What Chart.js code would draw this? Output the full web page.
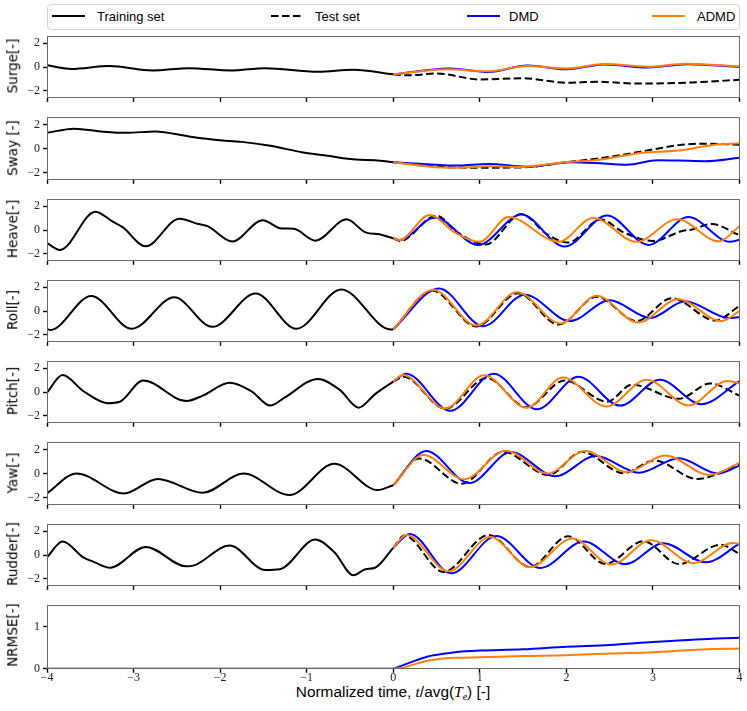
<!DOCTYPE html>
<html><head><meta charset="utf-8">
<script src="https://cdn.jsdelivr.net/npm/chart.js@4.4.1/dist/chart.umd.min.js"></script>
<style>
html,body{margin:0;padding:0;background:#fff;}
#wrap{position:relative;width:747px;height:711px;overflow:hidden;background:#fff;}
#wrap canvas{position:absolute;left:0;}
.ylab{position:absolute;font-family:"DejaVu Sans",sans-serif;font-size:13.5px;white-space:nowrap;transform:translate(-50%,-50%) rotate(-90deg);left:13px;color:#000;line-height:1;}
.leg{position:absolute;font-family:"Liberation Sans",sans-serif;font-size:13px;top:16px;transform:translateY(-50%);white-space:nowrap;color:#000;line-height:1;}
#legbox{position:absolute;left:47px;top:4px;width:691px;height:24px;border:1px solid #d4d4d4;border-radius:4px;background:#fff;}
#xlab{position:absolute;left:393px;top:692px;transform:translate(-50%,-50%);font-family:"Liberation Sans",sans-serif;font-size:15.4px;white-space:nowrap;color:#000;line-height:1;}
#xlab i{font-family:"Liberation Serif",serif;font-style:italic;}
#xlab sub{font-size:10px;vertical-align:-3px;line-height:0;}
</style></head><body>
<div id="wrap">
  <div id="legbox"></div>
  <svg style="position:absolute;left:0;top:0" width="747" height="32">
    <line x1="52" y1="16" x2="85" y2="16" stroke="#000" stroke-width="2"/>
    <line x1="271" y1="16" x2="304" y2="16" stroke="#000" stroke-width="2" stroke-dasharray="7.5,3.5"/>
    <line x1="467" y1="16" x2="500" y2="16" stroke="#0000ff" stroke-width="2"/>
    <line x1="652" y1="16" x2="685" y2="16" stroke="#ff7f0e" stroke-width="2"/>
  </svg>
  <div class="leg" style="left:97px">Training set</div>
  <div class="leg" style="left:315px">Test set</div>
  <div class="leg" style="left:509px">DMD</div>
  <div class="leg" style="left:697px">ADMD</div>
  <div id="xlab">Normalized time, <i>t</i>/avg(<i>T</i><sub><i>e</i></sub>) [-]</div>
</div>
<script>
// ---------- DATA ----------
const xTicks = [-4,-3,-2,-1,0,1,2,3,4];
const yTicks = [-2,0,2];
const nrmseTicks = [0,1];

// Surge
const surgeTrainT = [-4,-3.72,-3.28,-2.78,-2.36,-1.87,-1.48,-0.87,-0.46,0];
const surgeTrainY = [0.14,-0.17,0.08,-0.3,-0.1,-0.3,-0.1,-0.4,-0.23,-0.62];
const surgeTestT = [0,0.18,0.5,1.0,1.5,2.0,2.35,2.85,3.45,4];
const surgeTestY = [-0.62,-0.7,-0.55,-1.05,-0.95,-1.33,-1.25,-1.4,-1.3,-1.08];
const surgeDmdT = [0,0.65,1.1,1.55,2.0,2.44,2.94,3.4,4];
const surgeDmdY = [-0.62,-0.12,-0.42,0.12,-0.2,0.22,-0.04,0.24,0.0];
const surgeAdmdT = [0,0.63,1.08,1.55,2.0,2.44,2.94,3.38,4];
const surgeAdmdY = [-0.62,-0.18,-0.36,0.08,-0.12,0.26,0.02,0.28,0.04];

// Sway
const swayTrainT = [-4,-3.69,-3.35,-3.08,-2.75,-2.36,-2.03,-1.75,-1.42,-1.04,-0.76,-0.43,-0.21,0];
const swayTrainY = [1.3,1.65,1.4,1.3,1.42,1.0,0.7,0.55,0.22,-0.33,-0.6,-0.92,-0.97,-1.14];
const swayTestT = [0,0.4,0.95,1.5,2.0,2.5,3.0,3.3,3.6,4];
const swayTestY = [-1.14,-1.45,-1.6,-1.57,-1.14,-0.7,-0.08,0.28,0.4,0.32];
const swayDmdT = [0,0.4,0.73,1.1,1.55,2.05,2.33,2.7,3.05,3.3,3.6,4];
const swayDmdY = [-1.14,-1.3,-1.42,-1.28,-1.52,-1.14,-1.2,-1.35,-0.98,-1.0,-1.05,-0.77];
const swayAdmdT = [0,0.5,0.75,1.1,1.45,2.05,2.33,2.88,3.3,3.7,4];
const swayAdmdY = [-1.14,-1.55,-1.6,-1.47,-1.53,-1.1,-0.98,-0.35,-0.17,0.3,0.43];

// Heave
const heaveTrainT = [-4,-3.85,-3.44,-3.24,-3.13,-2.86,-2.47,-2.25,-2.14,-1.86,-1.51,-1.29,-1.15,-0.9,-0.54,-0.32,-0.15,0];
const heaveTrainY = [-1.1,-1.68,1.55,0.7,0.26,-1.37,0.95,0.5,0.3,-0.98,0.83,0.13,0.1,-0.9,0.9,-0.2,-0.38,-0.7];
const heaveTestT = [0,0.08,0.5,0.73,1.07,1.48,1.77,2.02,2.4,2.66,3.0,3.35,3.43,3.68,4];
const heaveTestY = [-0.7,-0.92,1.22,-0.15,-1.22,1.35,-0.32,-1.06,0.89,-0.2,-0.92,-0.06,0.0,0.5,-0.44];
const heaveDmdT = [0,0.07,0.48,0.98,1.48,1.98,2.47,2.95,3.41,3.89,4];
const heaveDmdY = [-0.7,-0.85,1.04,-1.26,1.3,-1.4,1.22,-1.26,1.09,-1.0,-0.83];
const heaveAdmdT = [0,0.07,0.42,0.72,1.0,1.33,1.91,2.31,2.81,3.28,3.76,4];
const heaveAdmdY = [-0.7,-0.85,1.27,-0.25,-1.0,1.09,-1.0,1.02,-1.0,0.91,-0.96,0.32];

// Roll
const rollTrainT = [-4,-3.96,-3.49,-3.02,-2.53,-2.09,-1.59,-1.12,-0.6,-0.03,0];
const rollTrainY = [-1.52,-1.6,1.27,-1.5,1.16,-1.34,1.47,-1.5,1.82,-1.56,-1.55];
const rollTestT = [0,0.45,0.96,1.44,1.91,2.35,2.81,3.22,3.72,4];
const rollTestY = [-1.55,1.72,-1.3,1.5,-1.15,1.2,-0.85,1.08,-0.8,0.44];
const rollDmdT = [0,0.53,1.04,1.52,2.04,2.5,2.97,3.37,3.88,4];
const rollDmdY = [-1.55,1.9,-1.28,1.38,-0.85,0.9,-0.59,0.82,-0.6,-0.5];
const rollAdmdT = [0,0.46,0.96,1.43,1.93,2.35,2.83,3.29,3.79,4];
const rollAdmdY = [-1.55,1.8,-1.23,1.59,-1.05,1.28,-0.97,1.0,-0.85,-0.02];

// Pitch
const pitchTrainT = [-4,-3.82,-3.58,-3.3,-3.16,-2.89,-2.39,-2.2,-1.89,-1.64,-1.42,-1.26,-0.87,-0.62,-0.4,-0.21,0];
const pitchTrainY = [-0.05,1.43,0.08,-0.94,-0.82,0.97,-0.76,-0.3,0.79,0.08,-1.15,-0.5,1.1,0.2,-1.32,-0.18,0.88];
const pitchTestT = [0,0.12,0.6,1.08,1.54,1.98,2.47,2.76,3.3,3.66,4];
const pitchTestY = [0.88,1.28,-1.41,1.18,-1.28,0.97,-0.82,0.62,-0.58,0.72,-0.31];
const pitchDmdT = [0,0.15,0.66,1.16,1.66,2.14,2.62,3.08,3.56,4];
const pitchDmdY = [0.88,1.54,-1.59,1.54,-1.46,1.28,-1.15,1.03,-1.03,0.92];
const pitchAdmdT = [0,0.11,0.6,1.05,1.54,1.96,2.46,2.93,3.41,3.86,4];
const pitchAdmdY = [0.88,1.44,-1.38,1.41,-1.33,1.23,-1.23,1.03,-1.13,0.92,0.72];

// Yaw
const yawTrainT = [-4,-3.66,-3.11,-2.72,-2.2,-1.73,-1.2,-0.68,-0.18,0];
const yawTrainY = [-1.66,0,-1.66,-0.45,-1.6,0,-1.79,0.8,-1.38,-0.97];
const yawTestT = [0,0.3,0.79,1.27,1.79,2.18,2.66,3.02,3.51,4];
const yawTestY = [-0.97,1.25,-0.85,1.8,-0.13,1.8,0.03,1.08,-0.46,0.75];
const yawDmdT = [0,0.38,0.88,1.36,1.87,2.34,2.84,3.3,3.75,4];
const yawDmdY = [-0.97,1.86,-0.79,1.78,-0.22,1.45,0.07,1.27,0.0,0.65];
const yawAdmdT = [0,0.35,0.82,1.3,1.78,2.22,2.7,3.14,3.65,4];
const yawAdmdY = [-0.97,1.53,-0.48,1.9,0.0,1.87,0.12,1.5,-0.12,0.88];

// Rudder
const rudderTrainT = [-4,-3.82,-3.58,-3.46,-3.27,-2.86,-2.39,-2.3,-1.89,-1.48,-1.31,-0.9,-0.68,-0.46,-0.32,-0.21,0];
const rudderTrainY = [-0.2,1.13,-0.2,-0.58,-1.08,0.68,-0.96,-0.88,0.8,-1.26,-1.2,1.31,0.23,-1.71,-1.2,-1.08,0.6];
const rudderTestT = [0,0.13,0.58,1.1,1.58,2.02,2.45,2.89,3.3,3.78,4];
const rudderTestY = [0.6,1.64,-1.43,1.68,-1.0,1.58,-0.75,1.16,-0.77,0.87,0.1];
const rudderDmdT = [0,0.19,0.67,1.19,1.7,2.2,2.68,3.12,3.61,4];
const rudderDmdY = [0.6,1.78,-1.54,1.6,-1.09,1.14,-0.77,0.99,-0.62,0.95];
const rudderAdmdT = [0,0.15,0.64,1.12,1.58,2.07,2.52,2.98,3.47,3.92,4];
const rudderAdmdY = [0.6,1.68,-1.38,1.52,-1.02,1.39,-0.81,1.25,-0.69,1.02,0.94];

// NRMSE
const nrmseTrainT = [-4,0];
const nrmseTrainY = [0,0];
const nrmseDmdT = [0,0.2,0.4,0.6,0.8,1.0,1.5,2.0,2.5,3.0,3.5,4];
const nrmseDmdY = [0,0.15,0.29,0.36,0.41,0.43,0.46,0.52,0.56,0.63,0.69,0.73];
const nrmseAdmdT = [0,0.1,0.2,0.4,0.6,0.8,1.0,1.5,2.0,2.5,3.0,3.5,4];
const nrmseAdmdY = [0,0.02,0.08,0.19,0.25,0.26,0.27,0.3,0.32,0.36,0.39,0.45,0.48];

// ---------- PANELS ----------
const panels = [
  {label:'Surge[-]', train:[surgeTrainT,surgeTrainY], test:[surgeTestT,surgeTestY], dmd:[surgeDmdT,surgeDmdY], admd:[surgeAdmdT,surgeAdmdY]},
  {label:'Sway [-]', train:[swayTrainT,swayTrainY], test:[swayTestT,swayTestY], dmd:[swayDmdT,swayDmdY], admd:[swayAdmdT,swayAdmdY]},
  {label:'Heave[-]', train:[heaveTrainT,heaveTrainY], test:[heaveTestT,heaveTestY], dmd:[heaveDmdT,heaveDmdY], admd:[heaveAdmdT,heaveAdmdY]},
  {label:'Roll[-]', train:[rollTrainT,rollTrainY], test:[rollTestT,rollTestY], dmd:[rollDmdT,rollDmdY], admd:[rollAdmdT,rollAdmdY]},
  {label:'Pitch[-]', train:[pitchTrainT,pitchTrainY], test:[pitchTestT,pitchTestY], dmd:[pitchDmdT,pitchDmdY], admd:[pitchAdmdT,pitchAdmdY]},
  {label:'Yaw[-]', train:[yawTrainT,yawTrainY], test:[yawTestT,yawTestY], dmd:[yawDmdT,yawDmdY], admd:[yawAdmdT,yawAdmdY]},
  {label:'Rudder[-]', train:[rudderTrainT,rudderTrainY], test:[rudderTestT,rudderTestY], dmd:[rudderDmdT,rudderDmdY], admd:[rudderAdmdT,rudderAdmdY]},
  {label:'NRMSE[-]', train:[nrmseTrainT,nrmseTrainY], test:null, dmd:[nrmseDmdT,nrmseDmdY], admd:[nrmseAdmdT,nrmseAdmdY], ymin:0, ymax:1.5, ticks:nrmseTicks}
];

const fmt = v => (v < 0 ? '\u2212' : '') + Math.abs(v);

const framePlugin = {
  id: 'frame',
  afterDraw(ch) {
    const {ctx, chartArea: a} = ch;
    ctx.save();
    ctx.strokeStyle = '#6a6a6a';
    ctx.lineWidth = 1;
    const l = Math.floor(a.left) + 0.5, t = Math.floor(a.top) + 0.5;
    const r = Math.floor(a.right) + 0.5, b = Math.floor(a.bottom) + 0.5;
    ctx.strokeRect(l, t, r - l, b - t);
    ctx.restore();
  }
};

function ds(pair, color, dash, order) {
  const [T, Y] = pair;
  return {
    data: T.map((t, k) => ({x: t, y: Y[k]})),
    borderColor: color, borderWidth: 2, borderDash: dash || [],
    pointRadius: 0, pointHoverRadius: 0, fill: false,
    cubicInterpolationMode: 'monotone', order: order
  };
}

const wrap = document.getElementById('wrap');
panels.forEach((p, i) => {
  const plotTop = 32.5 + 81.25 * i, plotH = 67.5;
  const isLast = i === panels.length - 1;
  const canvasTop = Math.floor(plotTop) - 6;
  const padTop = plotTop - canvasTop;
  const bottomH = isLast ? 24 : 8;
  const H = Math.ceil(padTop + plotH + bottomH);
  const c = document.createElement('canvas');
  c.width = 747; c.height = H;
  c.style.top = canvasTop + 'px';
  c.style.width = '747px'; c.style.height = H + 'px';
  wrap.appendChild(c);

  const yl = document.createElement('div');
  yl.className = 'ylab';
  yl.textContent = p.label;
  yl.style.top = (plotTop + plotH / 2) + 'px';
  wrap.appendChild(yl);

  const datasets = [ds(p.train, '#000000', [], 3)];
  if (p.test) datasets.push(ds(p.test, '#000000', [7.5, 3.5], 2));
  datasets.push(ds(p.dmd, '#0000ff', [], 1));
  datasets.push(ds(p.admd, '#ff7f0e', [], 0));

  const yT = p.ticks || yTicks;
  new Chart(c, {
    type: 'line',
    data: {datasets},
    options: {
      responsive: false, animation: false, devicePixelRatio: 1, events: [],
      layout: {padding: {top: padTop, right: 7.5, left: 0, bottom: 0}},
      plugins: {legend: {display: false}, tooltip: {enabled: false}},
      scales: {
        x: {
          type: 'linear', min: -4, max: 4,
          afterBuildTicks: ax => { ax.ticks = xTicks.map(v => ({value: v})); },
          afterFit: ax => { ax.height = H - padTop - plotH; },
          grid: {drawOnChartArea: false, drawTicks: true, tickLength: 4, tickColor: '#000', tickWidth: 1.4},
          border: {display: false},
          ticks: {
            autoSkip: false, maxRotation: 0, padding: -2,
            callback: v => isLast ? fmt(v) : '',
            font: {family: '"Liberation Serif", serif', size: 12}, color: '#222'
          }
        },
        y: {
          type: 'linear', min: (p.ymin !== undefined ? p.ymin : -2.6), max: (p.ymax !== undefined ? p.ymax : 2.6),
          afterBuildTicks: ax => { ax.ticks = yT.map(v => ({value: v})); },
          afterFit: ax => { ax.width = 47; },
          grid: {drawOnChartArea: false, drawTicks: true, tickLength: 4, tickColor: '#000', tickWidth: 1.4},
          border: {display: false},
          ticks: {
            padding: 3, callback: v => fmt(v),
            font: {family: '"Liberation Serif", serif', size: 12}, color: '#222'
          }
        }
      }
    },
    plugins: [framePlugin]
  });
});
</script>
</body></html>
